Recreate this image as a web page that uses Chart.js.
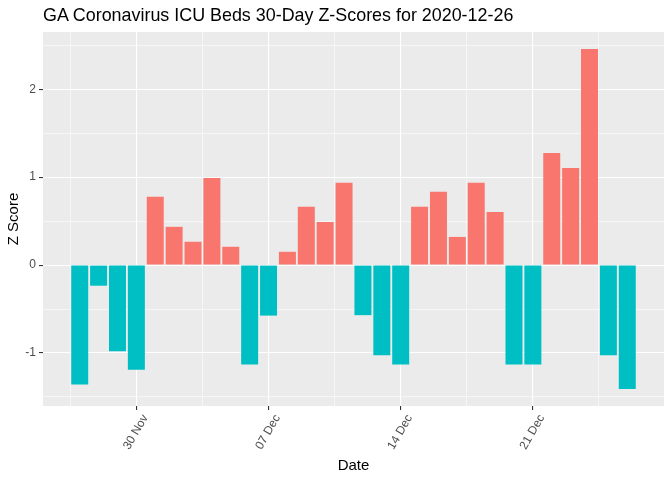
<!DOCTYPE html>
<html>
<head>
<meta charset="utf-8">
<script src="https://cdn.jsdelivr.net/npm/chart.js@4"></script>
<style>
body { margin: 0; background: #fff; }
#wrap { position: relative; width: 672px; height: 480px; }
#title { position: absolute; left: 43px; top: 5px; font: 17.9px "Liberation Sans", Arial, sans-serif; color: #000; white-space: nowrap; }
</style>
</head>
<body>
<div id="wrap">
  <div id="title">GA Coronavirus ICU Beds 30-Day Z-Scores for 2020-12-26</div>
  <canvas id="c" width="672" height="480"></canvas>
</div>
<script>
// daily dates and z-scores
const dates = [
  '2020-11-27', '2020-11-28', '2020-11-29', '2020-11-30', '2020-12-01', '2020-12-02',
  '2020-12-03', '2020-12-04', '2020-12-05', '2020-12-06', '2020-12-07', '2020-12-08',
  '2020-12-09', '2020-12-10', '2020-12-11', '2020-12-12', '2020-12-13', '2020-12-14',
  '2020-12-15', '2020-12-16', '2020-12-17', '2020-12-18', '2020-12-19', '2020-12-20',
  '2020-12-21', '2020-12-22', '2020-12-23', '2020-12-24', '2020-12-25', '2020-12-26'
];
const zScores = [
  -1.36, -0.235, -0.98, -1.19, 0.776, 0.435,
  0.265, 0.99, 0.208, -1.13, -0.575, 0.151,
  0.662, 0.49, 0.935, -0.57, -1.027, -1.13,
  0.662, 0.833, 0.32, 0.935, 0.605, -1.13,
  -1.13, 1.276, 1.105, 2.458, -1.027, -1.41
];
const xTickDates = ['2020-11-30', '2020-12-07', '2020-12-14', '2020-12-21'];
const xTickLabels = ['30 Nov', '07 Dec', '14 Dec', '21 Dec'];
const yTickValues = [-1, 0, 1, 2];

const posColor = '#F8766D';
const negColor = '#00BFC4';

function dayIndex(d) {
  return Math.round((Date.parse(d) - Date.parse(dates[0])) / 86400000);
}

let points = dates.map((d, i) => ({x: dayIndex(d), y: zScores[i]}));
let xMajor = xTickDates.map(dayIndex);
let xMinor = xMajor.map(v => v - 3.5).concat([xMajor[xMajor.length - 1] + 3.5]);
let yMinor = yTickValues.map(v => v - 0.5).concat([yTickValues[yTickValues.length - 1] + 0.5]);

// ggplot style 5% expansion
let xLo = points[0].x - 0.45, xHi = points[points.length - 1].x + 0.45;
let xPad = (xHi - xLo) * 0.05;
let yLo = Math.min(0, ...zScores), yHi = Math.max(0, ...zScores);
let yPad = (yHi - yLo) * 0.05;

function gridOpts(majors) {
  return {
    color: '#FFFFFF',
    lineWidth: (ctx) => majors.includes(ctx.tick && ctx.tick.value) ? 1.1 : 0.55,
    tickColor: (ctx) => majors.includes(ctx.tick && ctx.tick.value) ? '#333333' : 'rgba(0,0,0,0)',
    tickWidth: 1.1,
    tickLength: 4,
    drawTicks: true,
    offset: false
  };
}

const panelBg = {
  id: 'panelBg',
  beforeDraw(chart) {
    const a = chart.chartArea, ctx = chart.ctx;
    ctx.save();
    ctx.fillStyle = '#EBEBEB';
    ctx.fillRect(a.left, a.top, a.right - a.left, a.bottom - a.top);
    ctx.restore();
  }
};

const tickFont = {family: '"Liberation Sans", Arial, sans-serif', size: 12};
const titleFont = {family: '"Liberation Sans", Arial, sans-serif', size: 15};

new Chart(document.getElementById('c').getContext('2d'), {
  type: 'bar',
  data: {
    datasets: [{
      data: points,
      backgroundColor: zScores.map(v => v >= 0 ? posColor : negColor),
      borderWidth: 0,
      barPercentage: 0.9,
      categoryPercentage: 1.0
    }]
  },
  plugins: [panelBg],
  options: {
    responsive: false,
    animation: false,
    layout: {padding: {left: 5, right: 8, top: 32, bottom: 5}},
    plugins: {legend: {display: false}, tooltip: {enabled: false}, title: {display: false}},
    scales: {
      x: {
        type: 'linear',
        min: xLo - xPad,
        max: xHi + xPad,
        offset: false,
        afterBuildTicks: (s) => {
          s.ticks = xMinor.concat(xMajor).sort((a, b) => a - b).map(v => ({value: v}));
        },
        afterFit: (s) => { s.height = 69; },
        grid: gridOpts(xMajor),
        border: {display: false},
        ticks: {
          autoSkip: false,
          minRotation: 60,
          maxRotation: 60,
          padding: 2,
          labelOffset: 9,
          color: '#4D4D4D',
          font: tickFont,
          callback: (v) => {
            const i = xMajor.indexOf(v);
            return i >= 0 ? xTickLabels[i] : '';
          }
        },
        title: {display: true, text: 'Date', color: '#000', font: titleFont, padding: 0}
      },
      y: {
        type: 'linear',
        min: yLo - yPad,
        max: yHi + yPad,
        afterBuildTicks: (s) => {
          s.ticks = yMinor.concat(yTickValues).sort((a, b) => a - b).map(v => ({value: v}));
        },
        afterFit: (s) => { s.width = 38; },
        grid: gridOpts(yTickValues),
        border: {display: false},
        ticks: {
          padding: 3,
          color: '#4D4D4D',
          font: tickFont,
          callback: (v) => yTickValues.includes(v) ? String(v) : ''
        },
        title: {display: true, text: 'Z Score', color: '#000', font: titleFont, padding: 0}
      }
    }
  }
});
</script>
</body>
</html>
